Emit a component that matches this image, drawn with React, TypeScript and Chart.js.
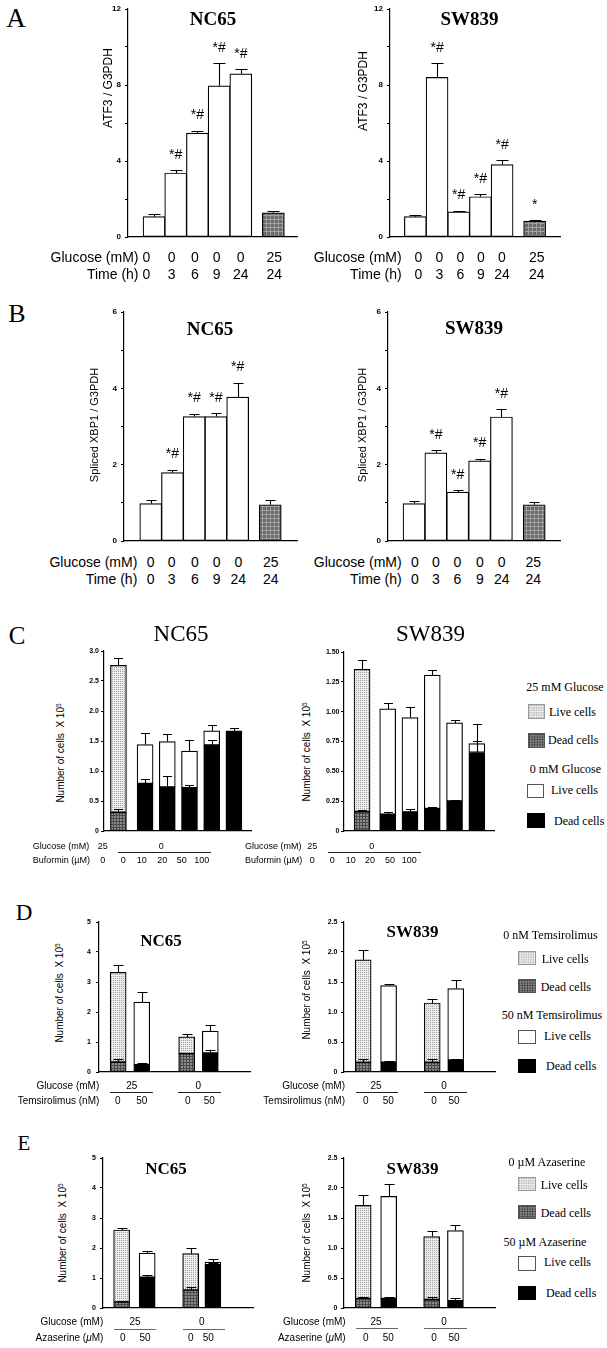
import React, { useEffect, useRef } from "react";
import { Chart, registerables } from "chart.js";
Chart.register(...registerables);

// ===================== DATA =====================
// Panels A / B : x-axis table
const glucoseAB = ["0", "0", "0", "0", "0", "25"];
const timeAB = ["0", "3", "6", "9", "24", "24"];

// Panel A : ATF3 / G3PDH
const atf3NC65 = [1.07, 3.37, 5.47, 7.96, 8.59, 1.27];
const atf3NC65Err = [1.2, 3.52, 5.6, 9.15, 8.86, 1.39];
const atf3NC65Sig = ["", "*#", "*#", "*#", "*#", ""];
const atf3SW839 = [1.07, 8.4, 1.32, 2.12, 3.81, 0.84];
const atf3SW839Err = [1.15, 9.16, 1.39, 2.27, 4.04, 0.9];
const atf3SW839Sig = ["", "*#", "*#", "*#", "*#", "*"];

// Panel B : Spliced XBP1 / G3PDH
const xbp1NC65 = [0.98, 1.79, 3.26, 3.26, 3.77, 0.95];
const xbp1NC65Err = [1.07, 1.87, 3.34, 3.36, 4.15, 1.07];
const xbp1NC65Sig = ["", "*#", "*#", "*#", "*#", ""];
const xbp1SW839 = [0.98, 2.31, 1.28, 2.1, 3.25, 0.95];
const xbp1SW839Err = [1.05, 2.38, 1.33, 2.16, 3.45, 1.01];
const xbp1SW839Sig = ["", "*#", "*#", "*#", "*#", ""];

// Panel C : Buformin
const cGlucoseBars = ["25", "0", "0", "0", "0", "0"];
const cGlucoseGroups = ["25", "0"];
const cBuformin = ["0", "0", "10", "20", "50", "100"];
const cNC65Dead = [0.31, 0.79, 0.73, 0.72, 1.43, 1.67];
const cNC65DeadErr = [0.37, 0.86, 0.91, 0.76, 1.51, 1.72];
const cNC65Total = [2.76, 1.44, 1.49, 1.33, 1.67, 1.67];
const cNC65TotalErr = [2.89, 1.64, 1.62, 1.52, 1.77, 1.72];
const cSW839Dead = [0.162, 0.139, 0.159, 0.187, 0.251, 0.658];
const cSW839DeadErr = [0.18, 0.156, 0.187, 0.2, 0.26, 0.755];
const cSW839Total = [1.355, 1.023, 0.951, 1.307, 0.906, 0.733];
const cSW839TotalErr = [1.436, 1.076, 1.043, 1.352, 0.934, 0.895];

// Panel D : Temsirolimus
const dGlucoseGroups = ["25", "0"];
const dTemsirolimus = ["0", "50", "0", "50"];
const dNC65Dead = [0.33, 0.24, 0.61, 0.63];
const dNC65DeadErr = [0.43, 0.3, 0.63, 0.72];
const dNC65Total = [3.32, 2.33, 1.17, 1.36];
const dNC65TotalErr = [3.57, 2.66, 1.26, 1.56];
const dSW839Dead = [0.16, 0.16, 0.16, 0.2];
const dSW839DeadErr = [0.22, 0.18, 0.21, 0.22];
const dSW839Total = [1.87, 1.44, 1.15, 1.39];
const dSW839TotalErr = [2.04, 1.47, 1.21, 1.54];

// Panel E : Azaserine
const eGlucoseGroups = ["25", "0"];
const eAzaserine = ["0", "50", "0", "50"];
const eNC65Dead = [0.2, 1.02, 0.6, 1.44];
const eNC65DeadErr = [0.24, 1.09, 0.69, 1.5];
const eNC65Total = [2.6, 1.83, 1.81, 1.53];
const eNC65TotalErr = [2.67, 1.89, 2.0, 1.62];
const eSW839Dead = [0.156, 0.156, 0.14, 0.12];
const eSW839DeadErr = [0.18, 0.19, 0.18, 0.16];
const eSW839Total = [1.71, 1.86, 1.19, 1.29];
const eSW839TotalErr = [1.89, 2.06, 1.29, 1.38];

// ===================== STYLE / LAYOUT =====================
const SANS = '"Liberation Sans", Arial, Helvetica, sans-serif';
const SERIF = '"Liberation Serif", "Times New Roman", Times, serif';
const YW = 30, PT = 10, PB = 10, PR = 2;

type Kind = "white" | "black" | "dots" | "hatch" | "mesh";

function makeFill(kind: Kind): string | CanvasPattern {
  if (kind === "white") return "#ffffff";
  if (kind === "black") return "#000000";
  const c = document.createElement("canvas");
  const g = c.getContext("2d")!;
  if (kind === "dots") {
    c.width = 2; c.height = 2;
    g.fillStyle = "#ececec"; g.fillRect(0, 0, 2, 2);
    g.fillStyle = "#a2a2a2"; g.fillRect(0, 0, 1, 1);
  } else if (kind === "hatch") {
    c.width = 3; c.height = 3;
    g.fillStyle = "#8c8c8c"; g.fillRect(0, 0, 3, 3);
    g.fillStyle = "#4a4a4a"; g.fillRect(0, 0, 3, 1); g.fillRect(0, 0, 1, 3);
  } else {
    c.width = 4; c.height = 4;
    g.fillStyle = "#6a6a6a"; g.fillRect(0, 0, 4, 4);
    g.fillStyle = "#a0a0a0"; g.fillRect(0, 0, 4, 1); g.fillRect(0, 0, 1, 4);
  }
  return g.createPattern(c, "repeat")!;
}

const fmtEvery = (n: number, dec: number) => (v: number) => {
  const r = v / n;
  if (Math.abs(r - Math.round(r)) > 1e-6) return "";
  return Math.abs(v) < 1e-9 ? "0" : v.toFixed(dec);
};

const errPlugin = {
  id: "errbars",
  afterDatasetsDraw(chart: any, _a: any, o: any) {
    const ctx = chart.ctx;
    const xs = chart.scales.x, ys = chart.scales.y;
    ctx.save();
    ctx.strokeStyle = "#000";
    ctx.lineWidth = 1.1;
    for (const e of o.items || []) {
      const px = Math.round(xs.getPixelForValue(e.x)) + 0.5;
      const y0 = ys.getPixelForValue(e.from);
      const y1 = Math.round(ys.getPixelForValue(e.to)) + 0.5;
      ctx.beginPath();
      ctx.moveTo(px, y0); ctx.lineTo(px, y1);
      ctx.moveTo(px - o.cap / 2, y1); ctx.lineTo(px + o.cap / 2, y1);
      ctx.stroke();
    }
    ctx.fillStyle = "#000";
    ctx.font = "14px " + SANS;
    ctx.textAlign = "center";
    ctx.textBaseline = "middle";
    for (const m of o.marks || []) {
      if (!m.text) continue;
      ctx.fillText(m.text, xs.getPixelForValue(m.x), ys.getPixelForValue(m.at) - 15);
    }
    ctx.restore();
  },
};

type Spec = {
  box: { x0: number; x1: number; yTop: number; yZero: number };
  yMax: number; yStep: number; fmt: (v: number) => string;
  tickSize: number; tickPad: number;
  xMin: number; xMax: number; pos: number[];
  barPx: number; cap: number;
  values?: number[]; errors?: number[]; marks?: string[]; fills?: Kind[];
  dead?: number[]; deadErr?: number[]; total?: number[]; totalErr?: number[]; patterned?: boolean[];
};

function BarPanel({ s }: { s: Spec }) {
  const ref = useRef<HTMLCanvasElement>(null);
  const left = s.box.x0 - YW;
  const top = s.box.yTop - PT;
  const w = s.box.x1 - left + PR;
  const h = s.box.yZero - s.box.yTop + PT + PB;
  useEffect(() => {
    const common = { borderColor: "#000", borderWidth: 1.2, borderSkipped: false, barThickness: s.barPx, grouped: false };
    const datasets: any[] = [];
    const items: any[] = [];
    const marks: any[] = [];
    if (s.values) {
      datasets.push({ ...common, data: s.pos.map((p, i) => ({ x: p, y: s.values![i] })), backgroundColor: s.fills!.map(makeFill) });
      s.pos.forEach((p, i) => {
        items.push({ x: p, from: s.values![i], to: s.errors![i] });
        if (s.marks) marks.push({ x: p, at: s.errors![i], text: s.marks[i] });
      });
    } else {
      const pat = s.patterned!;
      datasets.push({ ...common, data: s.pos.map((p, i) => ({ x: p, y: s.dead![i] })), backgroundColor: pat.map((b) => makeFill(b ? "hatch" : "black")) });
      datasets.push({ ...common, data: s.pos.map((p, i) => ({ x: p, y: [s.dead![i], s.total![i]] })), backgroundColor: pat.map((b) => makeFill(b ? "dots" : "white")) });
      s.pos.forEach((p, i) => {
        items.push({ x: p, from: s.dead![i], to: s.deadErr![i] });
        items.push({ x: p, from: s.total![i], to: s.totalErr![i] });
      });
    }
    const chart = new Chart(ref.current!, {
      type: "bar",
      data: { datasets },
      options: {
        animation: false,
        responsive: false,
        devicePixelRatio: 1,
        events: [],
        layout: { padding: { left: 0, top: PT, right: PR, bottom: PB } },
        plugins: {
          legend: { display: false },
          tooltip: { enabled: false },
          errbars: { items, marks, cap: s.cap },
        } as any,
        scales: {
          x: {
            type: "linear", min: s.xMin, max: s.xMax, offset: false,
            ticks: { display: false }, grid: { display: false },
            border: { display: true, color: "#000", width: 1.2 },
            afterFit: (sc: any) => { sc.height = 0; },
          },
          y: {
            min: 0, max: s.yMax,
            ticks: {
              stepSize: s.yStep, autoSkip: false, padding: s.tickPad, color: "#000",
              font: { family: SANS, size: s.tickSize, weight: "bold" },
              callback: (v: any) => s.fmt(Number(v)),
            },
            grid: { display: true, drawOnChartArea: false, drawTicks: true, tickLength: 3, color: "#000", lineWidth: 1 },
            border: { display: true, color: "#000", width: 1.2 },
            afterFit: (sc: any) => { sc.width = YW; },
          },
        } as any,
      },
      plugins: [errPlugin as any],
    });
    return () => chart.destroy();
  }, []);
  return <canvas ref={ref} width={w} height={h} style={{ position: "absolute", left, top, width: w, height: h }} />;
}

const posAB = [0, 1, 2, 3, 4, 5.5];
const glucoseFill = glucoseAB.map((g) => (g === "25" ? "mesh" : "white")) as Kind[];

const specs: Spec[] = [
  { box: { x0: 128, x1: 297, yTop: 9, yZero: 237 }, yMax: 12, yStep: 2, fmt: fmtEvery(4, 0), tickSize: 8, tickPad: 4,
    xMin: -1.2, xMax: 6.59, pos: posAB, barPx: 22, cap: 12, values: atf3NC65, errors: atf3NC65Err, marks: atf3NC65Sig, fills: glucoseFill },
  { box: { x0: 390, x1: 560, yTop: 9, yZero: 237 }, yMax: 12, yStep: 2, fmt: fmtEvery(4, 0), tickSize: 8, tickPad: 4,
    xMin: -1.17, xMax: 6.67, pos: posAB, barPx: 22, cap: 12, values: atf3SW839, errors: atf3SW839Err, marks: atf3SW839Sig, fills: glucoseFill },
  { box: { x0: 124, x1: 297, yTop: 312, yZero: 541 }, yMax: 6, yStep: 1, fmt: fmtEvery(2, 0), tickSize: 8, tickPad: 4,
    xMin: -1.23, xMax: 6.73, pos: posAB, barPx: 22, cap: 10, values: xbp1NC65, errors: xbp1NC65Err, marks: xbp1NC65Sig, fills: glucoseFill },
  { box: { x0: 388, x1: 560, yTop: 312, yZero: 541 }, yMax: 6, yStep: 1, fmt: fmtEvery(2, 0), tickSize: 8, tickPad: 4,
    xMin: -1.19, xMax: 6.68, pos: posAB, barPx: 22, cap: 10, values: xbp1SW839, errors: xbp1SW839Err, marks: xbp1SW839Sig, fills: glucoseFill },
  { box: { x0: 104, x1: 251, yTop: 651, yZero: 831 }, yMax: 3, yStep: 0.5, fmt: fmtEvery(0.5, 1), tickSize: 7, tickPad: 2,
    xMin: -0.65, xMax: 5.97, pos: [0, 1.2, 2.2, 3.2, 4.2, 5.2], barPx: 16, cap: 9,
    dead: cNC65Dead, deadErr: cNC65DeadErr, total: cNC65Total, totalErr: cNC65TotalErr, patterned: cGlucoseBars.map((g) => g === "25") },
  { box: { x0: 344, x1: 494, yTop: 652, yZero: 831 }, yMax: 1.5, yStep: 0.25, fmt: fmtEvery(0.25, 2), tickSize: 7, tickPad: 1.5,
    xMin: -0.81, xMax: 5.92, pos: [0, 1.15, 2.15, 3.15, 4.15, 5.15], barPx: 16, cap: 9,
    dead: cSW839Dead, deadErr: cSW839DeadErr, total: cSW839Total, totalErr: cSW839TotalErr, patterned: cGlucoseBars.map((g) => g === "25") },
  { box: { x0: 99, x1: 250, yTop: 922, yZero: 1072 }, yMax: 5, yStep: 1, fmt: fmtEvery(1, 0), tickSize: 7, tickPad: 5,
    xMin: -0.81, xMax: 5.58, pos: [0, 1, 2.9, 3.9], barPx: 16, cap: 10,
    dead: dNC65Dead, deadErr: dNC65DeadErr, total: dNC65Total, totalErr: dNC65TotalErr, patterned: dTemsirolimus.map((d) => d === "0") },
  { box: { x0: 344, x1: 495, yTop: 922, yZero: 1072 }, yMax: 2.5, yStep: 0.5, fmt: fmtEvery(0.5, 1), tickSize: 7, tickPad: 3.5,
    xMin: -0.79, xMax: 5.44, pos: [0, 1.05, 2.85, 3.82], barPx: 16, cap: 10,
    dead: dSW839Dead, deadErr: dSW839DeadErr, total: dSW839Total, totalErr: dSW839TotalErr, patterned: dTemsirolimus.map((d) => d === "0") },
  { box: { x0: 103, x1: 253, yTop: 1158, yZero: 1308 }, yMax: 5, yStep: 1, fmt: fmtEvery(1, 0), tickSize: 7, tickPad: 4,
    xMin: -0.78, xMax: 5.5, pos: [0, 1.07, 2.89, 3.82], barPx: 16, cap: 10,
    dead: eNC65Dead, deadErr: eNC65DeadErr, total: eNC65Total, totalErr: eNC65TotalErr, patterned: eAzaserine.map((d) => d === "0") },
  { box: { x0: 344, x1: 495, yTop: 1158, yZero: 1308 }, yMax: 2.5, yStep: 0.5, fmt: fmtEvery(0.5, 1), tickSize: 7, tickPad: 3.5,
    xMin: -0.79, xMax: 5.43, pos: [0, 1.05, 2.82, 3.8], barPx: 16, cap: 10,
    dead: eSW839Dead, deadErr: eSW839DeadErr, total: eSW839Total, totalErr: eSW839TotalErr, patterned: eAzaserine.map((d) => d === "0") },
];

// ---------- text helpers ----------
type TP = { x: number; y: number; size: number; serif?: boolean; bold?: boolean; align?: "l" | "c" | "r"; rot?: boolean; children: React.ReactNode };
function Txt(p: TP) {
  const tx = p.align === "l" ? "0" : p.align === "r" ? "-100%" : "-50%";
  const transform = p.rot ? "translate(-50%,-50%) rotate(-90deg)" : `translate(${tx},-50%)`;
  return (
    <div style={{ position: "absolute", left: p.x, top: p.y, transform, fontSize: p.size, lineHeight: 1,
      fontFamily: p.serif ? SERIF : SANS, fontWeight: p.bold ? "bold" : "normal", whiteSpace: "nowrap", color: "#000" }}>
      {p.children}
    </div>
  );
}
function HLine({ x1, x2, y, color = "#000" }: { x1: number; x2: number; y: number; color?: string }) {
  return <div style={{ position: "absolute", left: x1, top: y, width: x2 - x1, height: 1, background: color }} />;
}
function Swatch({ kind, x, y, w, h, border }: { kind: Kind; x: number; y: number; w: number; h: number; border: string }) {
  const ref = useRef<HTMLCanvasElement>(null);
  useEffect(() => {
    const g = ref.current!.getContext("2d")!;
    g.fillStyle = makeFill(kind) as any;
    g.fillRect(0, 0, w, h);
  }, []);
  return <canvas ref={ref} width={w} height={h} style={{ position: "absolute", left: x, top: y, width: w, height: h, boxSizing: "border-box", border: `1px solid ${border}` }} />;
}

// Layout of the x tables
const tablesAB = [
  { hx: 138.5, r1: 256.7, r2: 274, xs: [146.5, 171.7, 195, 216.7, 240.7, 274.3] },
  { hx: 401.7, r1: 256.7, r2: 274, xs: [418.3, 439.3, 460.3, 481, 502, 536.7] },
  { hx: 137.3, r1: 561.7, r2: 579, xs: [150.7, 171.7, 195, 216.7, 238.3, 270.7] },
  { hx: 401.7, r1: 561.7, r2: 579, xs: [415, 436, 457.3, 480, 501.7, 533.3] },
];

type GT = { size: number; hx: number; halign: "l" | "r"; r1: number; r2: number; ly: number; gxs: number[]; lines: number[][]; dxs: number[]; head2: React.ReactNode; groups: string[]; doses: string[]; lineColor: string };
const groupTables: GT[] = [
  { size: 9, hx: 32.7, halign: "l", r1: 845.7, r2: 860, ly: 852, gxs: [102.7, 161.3], lines: [[118.3, 211]], dxs: [102.7, 123.3, 141.7, 162.3, 181.7, 201.7], head2: "Buformin (µM)", groups: cGlucoseGroups, doses: cBuformin, lineColor: "#222" },
  { size: 9, hx: 245, halign: "l", r1: 845.7, r2: 860, ly: 852, gxs: [312.3, 371.7], lines: [[328.3, 420.7]], dxs: [312.3, 332.3, 350.7, 370, 390, 409.3], head2: "Buformin (µM)", groups: cGlucoseGroups, doses: cBuformin, lineColor: "#222" },
  { size: 10, hx: 99.3, halign: "r", r1: 1085.7, r2: 1101, ly: 1092, gxs: [131.7, 198.3], lines: [[110, 152.7], [178.3, 220.7]], dxs: [117.7, 141.7, 187.7, 209.3], head2: "Temsirolimus (nM)", groups: dGlucoseGroups, doses: dTemsirolimus, lineColor: "#222" },
  { size: 10, hx: 345, halign: "r", r1: 1085.7, r2: 1101, ly: 1092, gxs: [376, 444], lines: [[356, 398.3], [424.3, 466.7]], dxs: [365.7, 388.3, 434, 454], head2: "Temsirolimus (nM)", groups: dGlucoseGroups, doses: dTemsirolimus, lineColor: "#222" },
  { size: 10, hx: 103.3, halign: "r", r1: 1322.3, r2: 1337.7, ly: 1329, gxs: [135, 201.7], lines: [[114.3, 156], [183.3, 225]], dxs: [122.7, 145, 190.7, 208.3], head2: <>Azaserine (<i>μ</i>M)</>, groups: eGlucoseGroups, doses: eAzaserine, lineColor: "#666" },
  { size: 10, hx: 345.7, halign: "r", r1: 1322.3, r2: 1337.7, ly: 1328, gxs: [376, 444], lines: [[356, 398.3], [424.3, 466.7]], dxs: [365.7, 388.3, 434, 454], head2: <>Azaserine (<i>μ</i>M)</>, groups: eGlucoseGroups, doses: eAzaserine, lineColor: "#666" },
];

const letters = [
  { t: "A", x: 16, y: 18, size: 27 }, { t: "B", x: 17, y: 314, size: 26 }, { t: "C", x: 17, y: 635, size: 25 },
  { t: "D", x: 24, y: 912, size: 23 }, { t: "E", x: 24, y: 1143, size: 21 },
];
const titles = [
  { t: "NC65", x: 213, y: 18, size: 19, bold: true }, { t: "SW839", x: 469.5, y: 18, size: 19, bold: true },
  { t: "NC65", x: 210, y: 328, size: 19, bold: true }, { t: "SW839", x: 474, y: 327, size: 19, bold: true },
  { t: "NC65", x: 181, y: 633, size: 23, bold: false }, { t: "SW839", x: 430.5, y: 633, size: 23, bold: false },
  { t: "NC65", x: 161, y: 940, size: 17, bold: true }, { t: "SW839", x: 412.5, y: 931, size: 17, bold: true },
  { t: "NC65", x: 166, y: 1168, size: 17, bold: true }, { t: "SW839", x: 412.5, y: 1168, size: 17, bold: true },
];
const cellsLabel = <>Number of cells&nbsp; X 10<sup style={{ fontSize: "0.65em", verticalAlign: "0.6em" }}>5</sup></>;
const yLabels = [
  { t: "ATF3 / G3PDH" as React.ReactNode, x: 108, y: 88, size: 12 }, { t: "ATF3 / G3PDH", x: 363, y: 91, size: 12 },
  { t: "Spliced XBP1 / G3PDH", x: 94, y: 425, size: 11 }, { t: "Spliced XBP1 / G3PDH", x: 362, y: 425, size: 11 },
  { t: cellsLabel, x: 61, y: 753, size: 10 }, { t: cellsLabel, x: 307, y: 752, size: 10 },
  { t: cellsLabel, x: 60, y: 993, size: 10 }, { t: cellsLabel, x: 307, y: 990, size: 10 },
  { t: cellsLabel, x: 63, y: 1233, size: 10 }, { t: cellsLabel, x: 307, y: 1233, size: 10 },
];
const legendHeads = [
  { t: "25 mM Glucose", x: 565, y: 686.7 }, { t: "0 mM Glucose", x: 565.3, y: 769 },
  { t: "0 nM Temsirolimus", x: 550.5, y: 935 }, { t: "50 nM Temsirolimus", x: 552, y: 1015 },
  { t: "0 µM Azaserine", x: 547, y: 1161.7 }, { t: "50 µM Azaserine", x: 545, y: 1241.7 },
];
const legendRows: { kind: Kind; sx: number; sy: number; sw: number; sh: number; tx: number; ty: number; t: string; b: string }[] = [
  { kind: "dots", sx: 528, sy: 704, sw: 17, sh: 15, tx: 549, ty: 711.7, t: "Live cells", b: "#999" },
  { kind: "hatch", sx: 528, sy: 733, sw: 17, sh: 15, tx: 548, ty: 740.3, t: "Dead cells", b: "#555" },
  { kind: "white", sx: 527, sy: 784, sw: 17, sh: 14, tx: 551, ty: 790, t: "Live cells", b: "#555" },
  { kind: "black", sx: 527, sy: 813, sw: 18, sh: 15, tx: 554, ty: 820.7, t: "Dead cells", b: "#000" },
  { kind: "dots", sx: 518, sy: 951, sw: 18, sh: 14, tx: 541.7, ty: 959, t: "Live cells", b: "#999" },
  { kind: "hatch", sx: 518, sy: 979, sw: 18, sh: 14, tx: 540.7, ty: 987.3, t: "Dead cells", b: "#555" },
  { kind: "white", sx: 518, sy: 1030, sw: 18, sh: 14, tx: 544, ty: 1036, t: "Live cells", b: "#555" },
  { kind: "black", sx: 518, sy: 1059, sw: 18, sh: 14, tx: 546, ty: 1066, t: "Dead cells", b: "#000" },
  { kind: "dots", sx: 518, sy: 1177, sw: 18, sh: 14, tx: 540.7, ty: 1185, t: "Live cells", b: "#999" },
  { kind: "hatch", sx: 518, sy: 1205, sw: 18, sh: 14, tx: 540.7, ty: 1213.3, t: "Dead cells", b: "#555" },
  { kind: "white", sx: 518, sy: 1256, sw: 18, sh: 15, tx: 544, ty: 1261.7, t: "Live cells", b: "#555" },
  { kind: "black", sx: 518, sy: 1286, sw: 18, sh: 14, tx: 546, ty: 1292.7, t: "Dead cells", b: "#000" },
];

export default function App() {
  return (
    <div style={{ position: "absolute", left: 0, top: 0, width: 607, height: 1348, background: "#fff", overflow: "hidden" }}>
      {specs.map((s, i) => <BarPanel key={"c" + i} s={s} />)}
      {letters.map((l, i) => <Txt key={"l" + i} x={l.x} y={l.y} size={l.size} serif>{l.t}</Txt>)}
      {titles.map((l, i) => <Txt key={"t" + i} x={l.x} y={l.y} size={l.size} serif bold={l.bold}>{l.t}</Txt>)}
      {yLabels.map((l, i) => <Txt key={"y" + i} x={l.x} y={l.y} size={l.size} rot>{l.t}</Txt>)}
      {tablesAB.map((tb, i) => (
        <React.Fragment key={"ab" + i}>
          <Txt x={tb.hx} y={tb.r1} size={14} align="r">Glucose (mM)</Txt>
          <Txt x={tb.hx} y={tb.r2} size={14} align="r">Time (h)</Txt>
          {glucoseAB.map((g, j) => <Txt key={"g" + j} x={tb.xs[j]} y={tb.r1} size={14}>{g}</Txt>)}
          {timeAB.map((g, j) => <Txt key={"h" + j} x={tb.xs[j]} y={tb.r2} size={14}>{g}</Txt>)}
        </React.Fragment>
      ))}
      {groupTables.map((tb, i) => (
        <React.Fragment key={"gt" + i}>
          <Txt x={tb.hx} y={tb.r1} size={tb.size} align={tb.halign}>Glucose (mM)</Txt>
          <Txt x={tb.hx} y={tb.r2} size={tb.size} align={tb.halign}>{tb.head2}</Txt>
          {tb.groups.map((g, j) => <Txt key={"g" + j} x={tb.gxs[j]} y={tb.r1} size={tb.size}>{g}</Txt>)}
          {tb.doses.map((g, j) => <Txt key={"d" + j} x={tb.dxs[j]} y={tb.r2} size={tb.size}>{g}</Txt>)}
          {tb.lines.map((ln, j) => <HLine key={"n" + j} x1={ln[0]} x2={ln[1]} y={tb.ly} color={tb.lineColor} />)}
        </React.Fragment>
      ))}
      {legendHeads.map((l, i) => <Txt key={"lh" + i} x={l.x} y={l.y} size={12} serif>{l.t}</Txt>)}
      {legendRows.map((r, i) => (
        <React.Fragment key={"lr" + i}>
          <Swatch kind={r.kind} x={r.sx} y={r.sy} w={r.sw} h={r.sh} border={r.b} />
          <Txt x={r.tx} y={r.ty} size={12} serif align="l">{r.t}</Txt>
        </React.Fragment>
      ))}
    </div>
  );
}
